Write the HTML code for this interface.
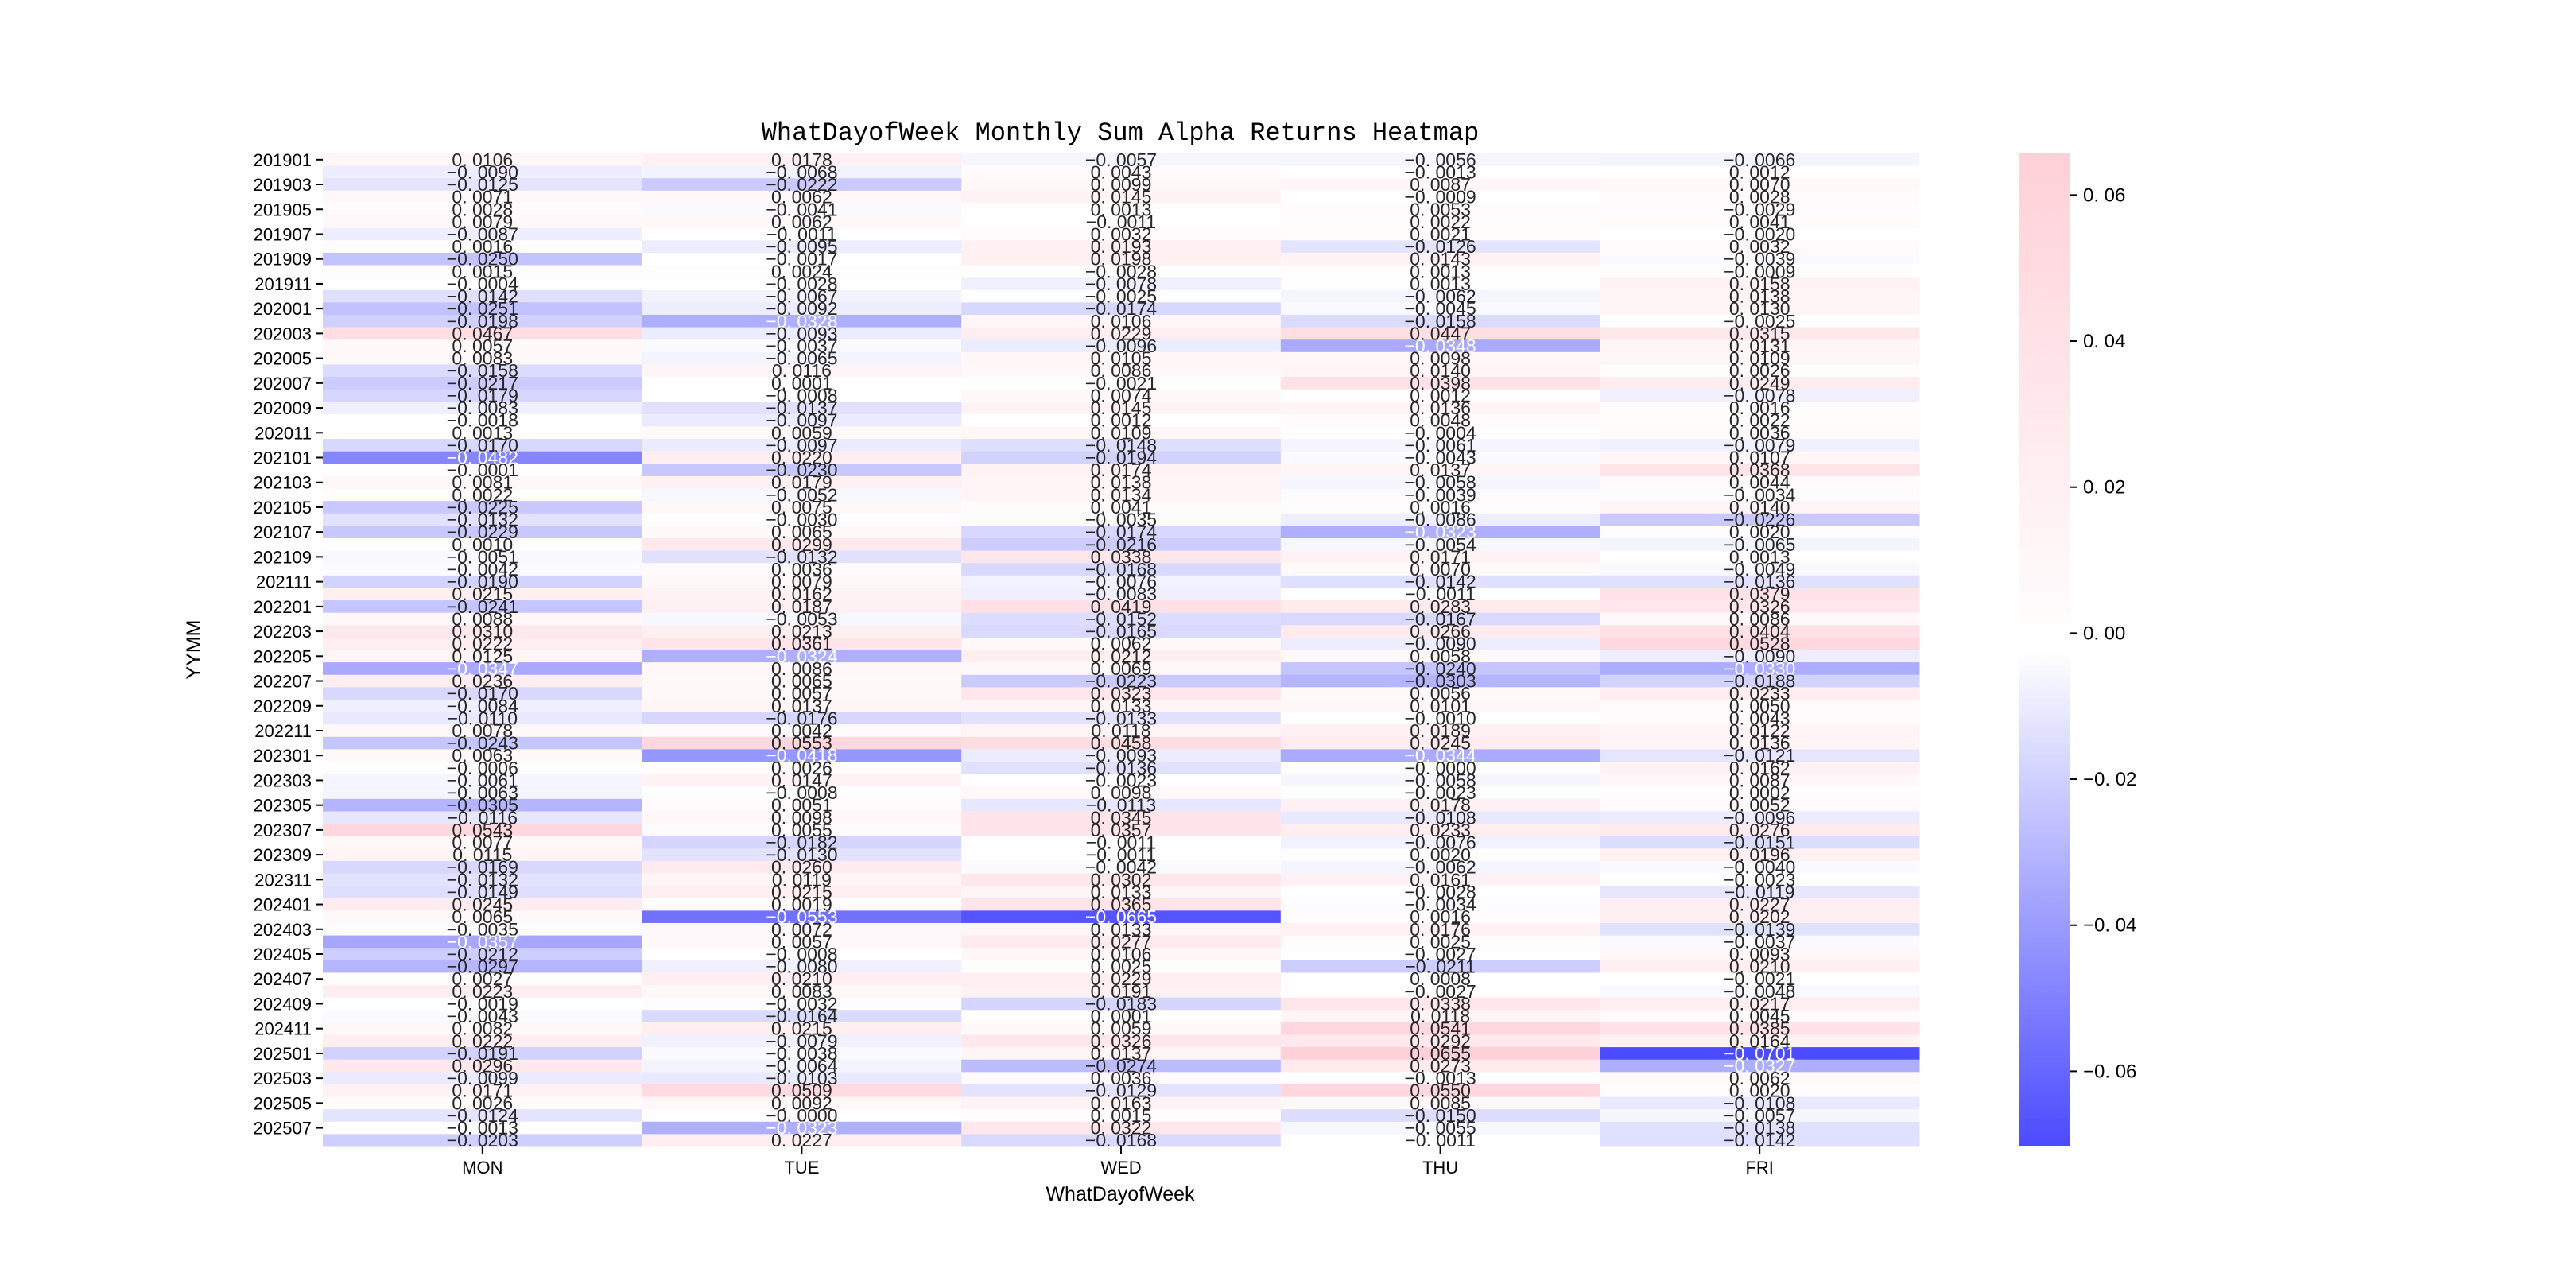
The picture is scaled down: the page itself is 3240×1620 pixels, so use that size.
<!DOCTYPE html>
<html><head><meta charset="utf-8"><style>
html,body{margin:0;padding:0;background:#fff;}
svg{display:block;}
text{font-family:"Liberation Sans","WenQuanYi Zen Hei",sans-serif;}
</style></head>
<body>
<svg id="chart" width="3240" height="1620" viewBox="0 0 3240 1620" xmlns="http://www.w3.org/2000/svg">
<rect x="0" y="0" width="3240" height="1620" fill="#fff"/>
<text x="1409" y="176" font-size="32" text-anchor="middle" fill="#000" style="font-family:'WenQuanYi Zen Hei','Liberation Mono',monospace">WhatDayofWeek Monthly Sum Alpha Returns Heatmap</text>
<g id="cells"></g>
<g id="annots"></g>
<g id="yaxis"></g>
<g id="xaxis"></g>
<text x="0" y="0" transform="translate(252,817) rotate(-90)" font-size="25" text-anchor="middle" style="font-family:'WenQuanYi Zen Hei',sans-serif">YYMM</text>
<text x="1409" y="1510" font-size="25" text-anchor="middle" style="font-family:'WenQuanYi Zen Hei',sans-serif">WhatDayofWeek</text>
<defs><linearGradient id="cbgrad" x1="0" y1="1" x2="0" y2="0"><stop offset="0" stop-color="#4b4bff"/><stop offset="0.5" stop-color="#ffffff"/><stop offset="1" stop-color="#ffd0d8"/></linearGradient></defs>
<rect x="2539" y="193" width="64" height="1249" fill="url(#cbgrad)"/>
<g id="cbticks"></g>
</svg>
<script>
const days = ["MON","TUE","WED","THU","FRI"];
const monVals = [0.0106,-0.0090,-0.0125,0.0071,0.0028,0.0079,-0.0087,0.0016,-0.0250,0.0015,-0.0004,-0.0142,-0.0251,-0.0198,0.0467,0.0057,0.0083,-0.0158,-0.0217,-0.0179,-0.0083,-0.0018,0.0013,-0.0170,-0.0482,-0.0001,0.0081,0.0022,-0.0225,-0.0132,-0.0229,0.0010,-0.0051,-0.0042,-0.0190,0.0215,-0.0241,0.0088,0.0310,0.0222,0.0125,-0.0347,0.0236,-0.0170,-0.0084,-0.0110,0.0078,-0.0243,0.0063,-0.0006,-0.0061,-0.0063,-0.0305,-0.0116,0.0543,0.0077,0.0115,-0.0169,-0.0132,-0.0149,0.0245,0.0065,-0.0035,-0.0357,-0.0212,-0.0297,0.0027,0.0223,-0.0019,-0.0043,0.0082,0.0222,-0.0191,0.0296,-0.0099,0.0171,0.0026,-0.0124,-0.0013,-0.0203];
const tueVals = [0.0178,-0.0068,-0.0222,0.0062,-0.0041,0.0062,-0.0011,-0.0095,-0.0017,0.0024,-0.0028,-0.0067,-0.0092,-0.0328,-0.0093,-0.0037,-0.0065,0.0116,0.0001,-0.0008,-0.0137,-0.0097,0.0059,-0.0097,0.0220,-0.0230,0.0179,-0.0052,0.0075,-0.0030,0.0065,0.0299,-0.0132,0.0036,0.0079,0.0162,0.0187,-0.0053,0.0213,0.0361,-0.0324,0.0086,0.0065,0.0057,0.0137,-0.0176,0.0042,0.0553,-0.0418,0.0026,0.0147,-0.0008,0.0051,0.0098,0.0055,-0.0182,-0.0130,0.0260,0.0119,0.0215,0.0019,-0.0553,0.0072,0.0057,-0.0008,-0.0080,0.0210,0.0083,-0.0032,-0.0164,0.0215,-0.0079,-0.0038,-0.0064,-0.0103,0.0509,0.0092,-0.0000,-0.0323,0.0227];
const wedVals = [-0.0057,0.0043,0.0099,0.0145,0.0013,-0.0011,0.0032,0.0193,0.0198,-0.0028,-0.0078,-0.0025,-0.0174,0.0106,0.0229,-0.0096,0.0105,0.0086,-0.0021,0.0074,0.0145,0.0012,0.0109,-0.0148,-0.0194,0.0174,0.0138,0.0134,0.0041,-0.0035,-0.0174,-0.0216,0.0338,-0.0168,-0.0076,-0.0083,0.0419,-0.0152,-0.0165,0.0062,0.0212,0.0069,-0.0223,0.0323,0.0133,-0.0133,0.0118,0.0458,-0.0093,-0.0136,-0.0023,0.0098,-0.0113,0.0345,0.0357,-0.0011,-0.0011,-0.0042,0.0302,0.0133,0.0365,-0.0665,0.0133,0.0277,0.0106,0.0025,0.0229,0.0191,-0.0183,0.0001,0.0059,0.0326,0.0137,-0.0274,0.0036,-0.0129,0.0163,0.0015,0.0322,-0.0168];
const thuVals = [-0.0056,-0.0013,0.0087,-0.0009,0.0053,0.0022,0.0021,-0.0126,0.0143,0.0013,0.0013,-0.0062,-0.0045,-0.0158,0.0447,-0.0348,0.0098,0.0140,0.0398,0.0012,0.0136,0.0048,-0.0004,-0.0061,-0.0043,0.0137,-0.0058,-0.0039,0.0016,-0.0086,-0.0323,-0.0054,0.0171,0.0070,-0.0142,-0.0011,0.0283,-0.0167,0.0266,-0.0090,0.0058,-0.0240,-0.0303,0.0056,0.0101,-0.0010,0.0189,0.0245,-0.0344,-0.0000,-0.0058,-0.0023,0.0178,-0.0108,0.0233,-0.0076,0.0020,-0.0062,0.0161,-0.0028,-0.0034,0.0016,0.0176,0.0025,-0.0027,-0.0211,0.0008,-0.0027,0.0338,0.0118,0.0541,0.0292,0.0655,0.0273,-0.0013,0.0550,0.0085,-0.0150,-0.0055,-0.0011];
const friVals = [-0.0066,0.0012,0.0070,0.0028,-0.0029,0.0041,-0.0020,0.0032,-0.0039,-0.0009,0.0158,0.0138,0.0130,-0.0025,0.0315,0.0131,0.0109,0.0026,0.0249,-0.0078,0.0016,0.0022,0.0036,-0.0079,0.0107,0.0368,0.0044,-0.0034,0.0140,-0.0226,0.0020,-0.0065,0.0013,-0.0049,-0.0136,0.0379,0.0326,0.0086,0.0404,0.0528,-0.0090,-0.0330,-0.0188,0.0233,0.0050,0.0043,0.0122,0.0136,-0.0121,0.0162,0.0087,0.0002,0.0052,-0.0096,0.0276,-0.0151,0.0196,-0.0040,-0.0023,-0.0119,0.0227,0.0202,-0.0139,-0.0037,0.0093,0.0210,-0.0021,-0.0048,0.0217,0.0045,0.0385,0.0164,-0.0701,-0.0327,0.0062,0.0020,-0.0108,-0.0057,-0.0138,-0.0142];
const cbTicks = [0.06,0.04,0.02,0.00,-0.02,-0.04,-0.06];
const cbTickLabels = ["0.06","0.04","0.02","0.00","\u22120.02","\u22120.04","\u22120.06"];

const series = [monVals,tueVals,wedVals,thuVals,friVals];
const months = [];
for (let y=2019;y<=2025;y++) for (let m=1;m<=12;m++){ if (y===2025 && m>8) break; months.push(String(y)+String(m).padStart(2,'0')); }
const NS="http://www.w3.org/2000/svg";
const X0=406, X1=2414, Y0=193, Y1=1442;
const cw=(X1-X0)/days.length, rh=(Y1-Y0)/months.length;
const all=[].concat(...series);
const vmin=Math.min(...all), vmax=Math.max(...all);
const xOf = i => X0 + i*cw;
const yOf = j => Y0 + j*rh;
const blue=[75,75,255], white=[255,255,255], pink=[255,208,216];
function color(v){
  const t=(v-vmin)/(vmax-vmin);
  let a,b,f;
  if(t<0.5){a=blue;b=white;f=t/0.5;} else {a=white;b=pink;f=(t-0.5)/0.5;}
  return [0,1,2].map(k=>Math.round(a[k]+(b[k]-a[k])*f));
}
function mk(tag,attrs,parent){const e=document.createElementNS(NS,tag);for(const k in attrs)e.setAttribute(k,attrs[k]);parent.appendChild(e);return e;}
const cells=document.getElementById('cells'), annots=document.getElementById('annots');
series.forEach((vals,i)=>{
  vals.forEach((v,j)=>{
    const c=color(v);
    const r=mk('rect',{x:xOf(i),y:yOf(j),width:cw+0.5,height:rh+0.5,fill:`rgb(${c[0]},${c[1]},${c[2]})`},cells);
    
    
  });
});
series.forEach((vals,i)=>{
  vals.forEach((v,j)=>{
    const c=color(v);
    const lum=(0.2126*c[0]+0.7152*c[1]+0.0722*c[2])/255;
    const s=(v<0||Object.is(v,-0)?'\u2212':'')+Math.abs(v).toFixed(4).replace('.', '. ');
    const t=mk('text',{x:xOf(i)+cw/2,y:yOf(j)+rh/2+8,'font-size':23,'text-anchor':'middle',fill:lum<0.72?'#fff':'#262626',style:"font-family:'WenQuanYi Zen Hei',sans-serif"},annots);
    t.textContent=s;
    
    
  });
});
const yaxis=document.getElementById('yaxis');
months.forEach((m,j)=>{
  if(j%2) return;
  const yc=yOf(j)+rh/2;
  const tk=mk('line',{x1:X0-9,x2:X0,y1:yc,y2:yc,stroke:'#000','stroke-width':2},yaxis);
  
  
  const t=mk('text',{x:X0-14,y:yc+8,'font-size':22,'text-anchor':'end',style:"font-family:'WenQuanYi Zen Hei',sans-serif"},yaxis);
  t.textContent=m;
  
  
});
const xaxis=document.getElementById('xaxis');
days.forEach((d,i)=>{
  const xc=xOf(i)+cw/2;
  const tk=mk('line',{x1:xc,x2:xc,y1:Y1,y2:Y1+9,stroke:'#000','stroke-width':2},xaxis);
  
  
  const t=mk('text',{x:xc,y:Y1+34,'font-size':22,'text-anchor':'middle',style:"font-family:'WenQuanYi Zen Hei',sans-serif"},xaxis);
  t.textContent=d;
  
  
});
const cb=document.getElementById('cbticks');
const cbTop=vmax+0.0002, cbBot=vmin-0.0002;
cbTicks.forEach((v,k)=>{
  const y=Y0+(cbTop-v)/(cbTop-cbBot)*(Y1-Y0);
  const tk=mk('line',{x1:2603,x2:2612,y1:y,y2:y,stroke:'#000','stroke-width':2},cb);
  
  
  const t=mk('text',{x:2620,y:y+8,'font-size':24,style:"font-family:'WenQuanYi Zen Hei',sans-serif"},cb);
  t.textContent=cbTickLabels[k].replace('.', '. ');
  
  
});
</script>
</body></html>
